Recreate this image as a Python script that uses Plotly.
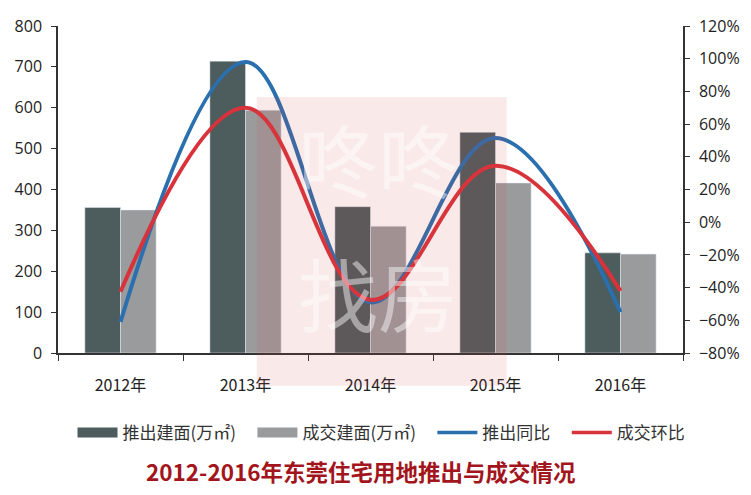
import plotly.graph_objects as go
from plotly.subplots import make_subplots

categories = ["2012年", "2013年", "2014年", "2015年", "2016年"]
supply_area = [356, 714, 358, 540, 245]      # 推出建面(万㎡)
deal_area = [350, 594, 310, 416, 242]        # 成交建面(万㎡)
supply_yoy = [-0.61, 0.98, -0.49, 0.515, -0.55]  # 推出同比
deal_mom = [-0.425, 0.70, -0.475, 0.345, -0.42]  # 成交环比

left_ticks = list(range(0, 801, 100))
right_ticks = [i / 100 for i in range(-80, 121, 20)]

dark = "#4d5c5d"
light = "#9a9b9d"
blue = "#2a6fae"
red = "#d8323b"
font_cjk = "Noto Sans CJK SC, Noto Sans, sans-serif"
pad = "\u00a0" * 3

fig = make_subplots(specs=[[{"secondary_y": True}]])

fig.add_trace(go.Bar(x=categories, y=supply_area, marker_color=dark, showlegend=False,
                     name="推出建面(万㎡)"), secondary_y=False)
fig.add_trace(go.Bar(x=categories, y=deal_area, marker_color=light, showlegend=False,
                     name="成交建面(万㎡)"), secondary_y=False)
fig.add_trace(go.Scatter(x=categories, y=supply_yoy, mode="lines", line=dict(color=blue, width=4, shape="spline", smoothing=1.1),
                         showlegend=False), secondary_y=True)
fig.add_trace(go.Scatter(x=categories, y=deal_mom, mode="lines", line=dict(color=red, width=4, shape="spline", smoothing=1.1),
                         showlegend=False), secondary_y=True)

# legend entries
for name, color, w in [("推出建面(万㎡)" + pad, dark, 10), ("成交建面(万㎡)" + pad, light, 10),
                       ("推出同比" + pad, blue, 3.5), ("成交环比", red, 3.5)]:
    fig.add_trace(go.Scatter(x=[None], y=[None], mode="lines", name=name,
                             line=dict(color=color, width=w)), secondary_y=False)

fig.update_layout(
    width=751, height=495,
    margin=dict(l=58, r=68, t=26, b=142),
    paper_bgcolor="white", plot_bgcolor="white",
    barmode="group", bargap=0.43, bargroupgap=0,
    font=dict(family=font_cjk, color="#222222", size=14),
    legend=dict(orientation="h", xref="container", yref="container", x=0.508, xanchor="center",
                y=(495 - 433) / 495, yanchor="middle",
                font=dict(size=17, color="#333333"), itemwidth=40, tracegroupgap=0),
    showlegend=True,
)

fig.update_xaxes(type="category", domain=[0, 1], showline=True, linecolor="#333333", linewidth=1.5, automargin=False,
                 ticks="outside", ticklen=6, tickcolor="#333333", tickson="boundaries",
                 ticklabelstandoff=17, tickfont=dict(size=16, color="#222222"), showgrid=False)
fig.update_yaxes(range=[0, 800], tickvals=left_ticks, showline=True, linecolor="#333333", linewidth=1.5,
                 ticks="outside", ticklen=5, tickcolor="#333333", showgrid=False, zeroline=False, automargin=False,
                 ticklabelstandoff=6,
                 tickfont=dict(size=16, color="#222222", family="Open Sans, sans-serif"), secondary_y=False)
fig.update_yaxes(range=[-0.8, 1.2], tickvals=right_ticks, tickformat=".0%", showline=True, linecolor="#333333",
                 linewidth=1.5, ticks="outside", ticklen=5, tickcolor="#333333", showgrid=False, zeroline=False,
                 automargin=False, ticklabelstandoff=6,
                 tickfont=dict(size=16, color="#222222", family="Open Sans, sans-serif"), secondary_y=True)

# watermark
fig.add_shape(type="rect", xref="paper", yref="paper", x0=0.318, x1=0.718, y0=-0.1, y1=0.783,
              fillcolor="rgba(215,70,70,0.12)", line_width=0, layer="above")
fig.add_annotation(text="咚咚", xref="paper", yref="paper", x=0.512, y=0.60, yanchor="middle", xanchor="center",
                   showarrow=False, font=dict(size=80, color="rgba(255,255,255,0.45)", family=font_cjk))
fig.add_annotation(text="找房", xref="paper", yref="paper", x=0.512, y=0.19, yanchor="middle", xanchor="center",
                   showarrow=False, font=dict(size=80, color="rgba(255,255,255,0.45)", family=font_cjk))

fig.add_annotation(text="<b>2012-2016年东莞住宅用地推出与成交情况</b>", xref="paper", yref="paper",
                   x=0.485, y=-0.36, yanchor="middle", showarrow=False,
                   font=dict(size=22.5, color="#a3151c", family=font_cjk))

fig.write_html("out.html", config={"displayModeBar": False},
               post_script="document.body.style.margin='0px';")
